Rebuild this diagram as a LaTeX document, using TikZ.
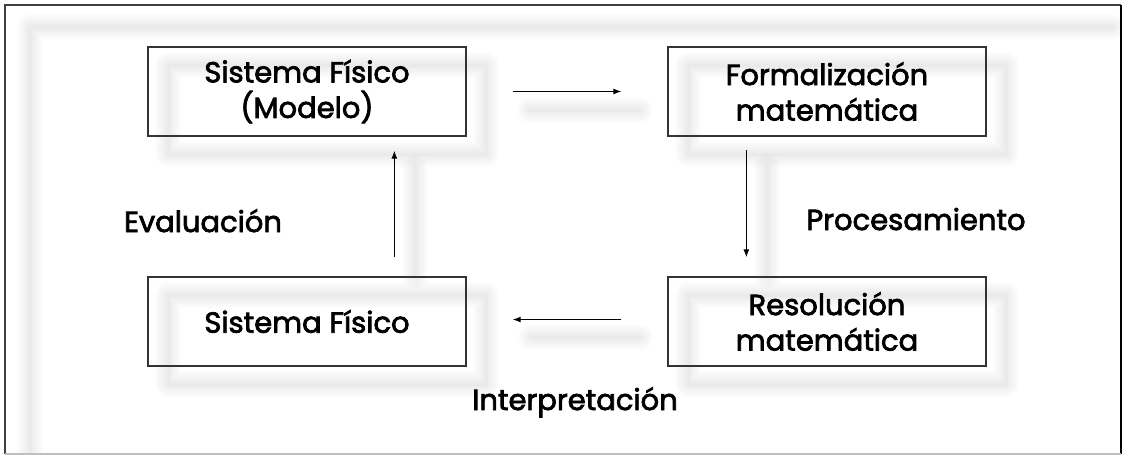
\documentclass[tikz,border=0pt]{standalone}
\usepackage{fontspec}
\setmainfont{Poppins}[UprightFeatures={FakeBold=2.5}]
\usetikzlibrary{arrows.meta,calc}
\newcommand\fsz{\fontsize{29}{35.5}\selectfont}
\newcommand\ghostpath[1]{\foreach \w in {26,22,18,14,10,6,3}{\draw[line width=\w pt, black, opacity=0.012, line cap=round, line join=round] #1;}}
\tikzset{
  box/.style={draw=black!80, line width=1.3pt, minimum width=318pt, minimum height=89pt, inner sep=0pt, align=center, font=\fsz},
  arr/.style={line width=1.2pt, -{Latex[length=8pt,width=6pt]}},
  lbl/.style={font=\fsz, inner sep=0pt, anchor=base}
}
\begin{document}
\begin{tikzpicture}[x=1pt,y=-1pt]
\useasboundingbox (0,0) rectangle (1122,455);
% ghost (blurred shadow) copies
\begin{scope}
\clip (5,5) rectangle (1121,454);
\ghostpath{(30,470) -- (30,27) -- (1112,27)}
\ghostpath{(168,65) rectangle (486,154)}
\ghostpath{(688,65) rectangle (1006,154)}
\ghostpath{(168,295) rectangle (486,384)}
\ghostpath{(688,295) rectangle (1006,384)}
\ghostpath{(530,110) -- (640,110)}
\ghostpath{(767,167) -- (767,276)}
\ghostpath{(531,337) -- (640,337)}
\ghostpath{(415,168) -- (415,276)}
\end{scope}
% outer frame
\draw[black!75, line width=1.5pt] (5,454) -- (5,5) -- (1121,5);
\draw[black, line width=2.5pt] (1121,5) -- (1121,454);
\draw[black!25, line width=1.5pt] (5,454) -- (1121,454);
% boxes
\node[box] (n1) at (307,91.5) {Sistema Físico\\(Modelo)};
\node[box] (n2) at (827,91.5) {Formalización\\matemática};
\node[box] (n3) at (827,321.5) {Resolución\\matemática};
\node[box] (n4) at (307,321.5) {Sistema Físico};
% arrows
\draw[arr, shorten <=46pt, shorten >=46pt] (n1) -- (n2);
\draw[arr, shorten <=46pt, shorten >=46pt] ($(n3.west)+(0,-2)$) -- ($(n4.east)+(0,-2)$);
\draw[arr] ($(n2.south west)+(79,13)$) -- ($(n3.north west)+(79,-19)$);
\draw[arr] ($(n4.north west)+(247,-19)$) -- ($(n1.south west)+(247,14)$);
% labels
\node[lbl] (ev) at (203,232) {Evaluación};
\node[lbl] (pr) at (916,230) {Procesamiento};
\node[lbl] (in) at (575,410) {Interpretación};
\end{tikzpicture}
\end{document}
